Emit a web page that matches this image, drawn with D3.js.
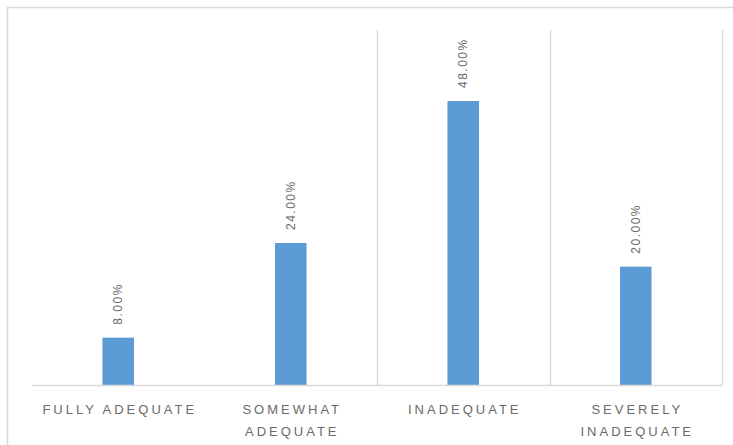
<!DOCTYPE html>
<html>
<head>
<meta charset="utf-8">
<script src="https://cdn.jsdelivr.net/npm/d3@7"></script>
<style>
  html, body { margin: 0; padding: 0; background: #ffffff; }
  svg { display: block; }
</style>
</head>
<body>
<svg id="chart" width="733" height="445"></svg>
<script>
// Share of responses by adequacy rating
const categories = ["Fully adequate", "Somewhat adequate", "Inadequate", "Severely inadequate"];
const shares = [0.08, 0.24, 0.48, 0.20];
const tickLines = [["FULLY ADEQUATE"], ["SOMEWHAT", "ADEQUATE"], ["INADEQUATE"], ["SEVERELY", "INADEQUATE"]];
const yDomain = [0, 0.6];

const svg = d3.select("#chart");
const W = 733, H = 445;
const plot = { left: 32, right: 722, top: 30, bottom: 385 };

const grey = "#d9d9d9";
const textGrey = "#6a6a6a";
const barColor = "#5b9bd5";

// outer chart frame
svg.append("rect")
  .attr("x", 7.5).attr("y", 7.5)
  .attr("width", 740).attr("height", 450)
  .attr("fill", "#ffffff")
  .attr("stroke", grey).attr("stroke-width", 1.5);

const x = d3.scaleBand().domain(categories).range([plot.left, plot.right]).padding(0);
const y = d3.scaleLinear().domain(yDomain).range([plot.bottom, plot.top]);
const step = x.step();
const barW = step * 0.183;

// separators at the right edge of the last three categories
svg.append("g").selectAll("line")
  .data(categories.slice(1))
  .join("line")
  .attr("x1", d => Math.round(x(d) + step) + 0.5)
  .attr("x2", d => Math.round(x(d) + step) + 0.5)
  .attr("y1", y(yDomain[1]))
  .attr("y2", y(0))
  .attr("stroke", grey).attr("stroke-width", 1.5);

// bars
svg.append("g").selectAll("rect")
  .data(categories)
  .join("rect")
  .attr("x", d => x(d) + (step - barW) / 2)
  .attr("width", barW)
  .attr("y", (d, i) => y(shares[i]))
  .attr("height", (d, i) => y(0) - y(shares[i]))
  .attr("fill", barColor);

// baseline
svg.append("line")
  .attr("x1", plot.left).attr("x2", plot.right)
  .attr("y1", y(0) + 0.5).attr("y2", y(0) + 0.5)
  .attr("stroke", grey).attr("stroke-width", 1.5);

// value labels, rotated
svg.append("g").selectAll("text")
  .data(categories)
  .join("text")
  .attr("transform", (d, i) => `translate(${x(d) + step / 2},${y(shares[i]) - 13}) rotate(-90)`)
  .attr("dy", "0.35em")
  .attr("text-anchor", "start")
  .attr("font-family", "Liberation Sans, Arial, sans-serif")
  .attr("font-size", 12)
  .attr("letter-spacing", 1.5)
  .attr("fill", textGrey)
  .text((d, i) => d3.format(".2%")(shares[i]));

// category labels
const tg = svg.append("g");
categories.forEach((c, i) => {
  const t = tg.append("text")
    .attr("x", x(c) + step / 2 + 1.5)
    .attr("y", 414)
    .attr("text-anchor", "middle")
    .attr("font-family", "Liberation Sans, Arial, sans-serif")
    .attr("font-size", 13)
    .attr("letter-spacing", 3)
    .attr("fill", textGrey);
  tickLines[i].forEach((line, j) => {
    t.append("tspan")
      .attr("x", x(c) + step / 2 + 1.5)
      .attr("dy", j === 0 ? 0 : 22)
      .text(line);
  });
});
</script>
</body>
</html>
